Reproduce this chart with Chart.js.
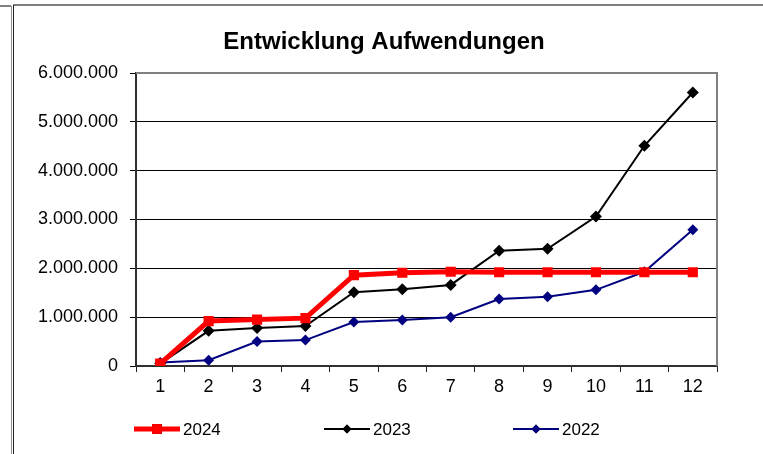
<!DOCTYPE html>
<html>
<head>
<meta charset="utf-8">
<script src="https://cdn.jsdelivr.net/npm/chart.js@4/dist/chart.umd.min.js"></script>
<style>
  html, body { margin: 0; padding: 0; background: #fff; }
  #wrap { width: 763px; height: 454px; }
</style>
</head>
<body>
<div id="wrap"><canvas id="chart" width="763" height="454"></canvas></div>
<script>
const months = ['1', '2', '3', '4', '5', '6', '7', '8', '9', '10', '11', '12'];
const y2024 = [50000, 920000, 950000, 980000, 1860000, 1910000, 1930000, 1920000, 1920000, 1920000, 1920000, 1920000];
const y2023 = [50000, 720000, 780000, 820000, 1510000, 1570000, 1660000, 2360000, 2400000, 3060000, 4510000, 5600000];
const y2022 = [70000, 120000, 500000, 530000, 900000, 940000, 1000000, 1370000, 1420000, 1560000, 1930000, 2790000];
const yTicks = [0, 1000000, 2000000, 3000000, 4000000, 5000000, 6000000];

const FONT = '"Liberation Sans", Arial, sans-serif';

function fmt(v) {
  return String(v).replace(/\B(?=(\d{3})+(?!\d))/g, '.');
}

// frame, plot border, title and the line+marker legend
const decor = {
  id: 'decor',
  beforeDraw(chart) {
    const c = chart.ctx;
    c.save();
    c.fillStyle = '#fff';
    c.fillRect(0, 0, chart.width, chart.height);
    c.lineWidth = 2;
    c.strokeStyle = '#808080';
    c.beginPath();
    c.moveTo(13, 5); c.lineTo(chart.width, 5);
    c.moveTo(0, 6); c.lineTo(11, 6);
    c.stroke();
    c.lineWidth = 1;
    c.strokeStyle = '#909090';
    c.beginPath();
    c.moveTo(11.5, 6); c.lineTo(11.5, chart.height);
    c.stroke();
    c.strokeStyle = '#202020';
    c.beginPath();
    c.moveTo(13.5, 5); c.lineTo(13.5, chart.height);
    c.stroke();
    c.restore();
  },
  afterDraw(chart) {
    const c = chart.ctx;
    const a = chart.chartArea;
    c.save();
    c.strokeStyle = '#808080';
    c.lineWidth = 2;
    c.beginPath();
    c.moveTo(a.left, a.top);
    c.lineTo(a.right, a.top);
    c.lineTo(a.right, a.bottom);
    c.stroke();

    c.fillStyle = '#000';
    c.font = 'bold 24px ' + FONT;
    c.textAlign = 'center';
    c.textBaseline = 'middle';
    c.fillText('Entwicklung Aufwendungen', 384, 42);

    const xs = [134, 324, 513];
    const ly = 429;
    chart.data.datasets.forEach((ds, i) => {
      const x0 = xs[i];
      c.strokeStyle = ds.borderColor;
      c.lineWidth = ds.borderWidth;
      c.beginPath();
      c.moveTo(x0, ly); c.lineTo(x0 + 46, ly);
      c.stroke();
      Chart.helpers.drawPoint(c, {
        pointStyle: ds.pointStyle,
        radius: ds.pointStyle === 'rect' ? 7 : 4.5,
        borderWidth: 0
      }, x0 + 23, ly);
      c.fillStyle = ds.pointBackgroundColor;
      c.fill();
      c.fillStyle = '#000';
      c.font = '17px ' + FONT;
      c.textAlign = 'left';
      c.fillText(ds.label, x0 + 49, ly + 1);
    });
    c.restore();
  }
};

new Chart(document.getElementById('chart'), {
  type: 'line',
  data: {
    labels: months,
    datasets: [
      { label: '2024', data: y2024, borderColor: '#ff0000', borderWidth: 5,
        pointStyle: 'rect', pointRadius: 7.2, pointHoverRadius: 7.2,
        pointBackgroundColor: '#ff0000', pointBorderColor: '#ff0000', pointBorderWidth: 0 },
      { label: '2023', data: y2023, borderColor: '#000000', borderWidth: 2,
        pointStyle: 'rectRot', pointRadius: 6, pointHoverRadius: 6,
        pointBackgroundColor: '#000000', pointBorderColor: '#000000', pointBorderWidth: 0 },
      { label: '2022', data: y2022, borderColor: '#000080', borderWidth: 2,
        pointStyle: 'rectRot', pointRadius: 5.5, pointHoverRadius: 5.5,
        pointBackgroundColor: '#000080', pointBorderColor: '#000080', pointBorderWidth: 0 }
    ]
  },
  options: {
    responsive: false,
    animation: false,
    tension: 0,
    layout: { padding: { left: 0, right: 46, top: 73, bottom: 56 } },
    plugins: { legend: { display: false }, title: { display: false }, tooltip: { enabled: false } },
    scales: {
      x: {
        offset: true,
        grid: { drawOnChartArea: false, drawTicks: true, tickLength: 6, color: '#202020', offset: true },
        border: { color: '#303030', width: 2 },
        ticks: { color: '#000', font: { family: FONT, size: 18 }, padding: 4, maxRotation: 0 },
        afterFit(s) { s.height = 32; }
      },
      y: {
        min: 0, max: 6000000,
        afterBuildTicks(s) { s.ticks = yTicks.map(v => ({ value: v })); },
        grid: { color: '#000', lineWidth: 1, drawTicks: true, tickLength: 6 },
        border: { color: '#303030', width: 2 },
        ticks: { color: '#000', font: { family: FONT, size: 18 }, padding: 12,
                 callback: v => fmt(v) },
        afterFit(s) { s.width = 136; }
      }
    }
  },
  plugins: [decor]
});
</script>
</body>
</html>
